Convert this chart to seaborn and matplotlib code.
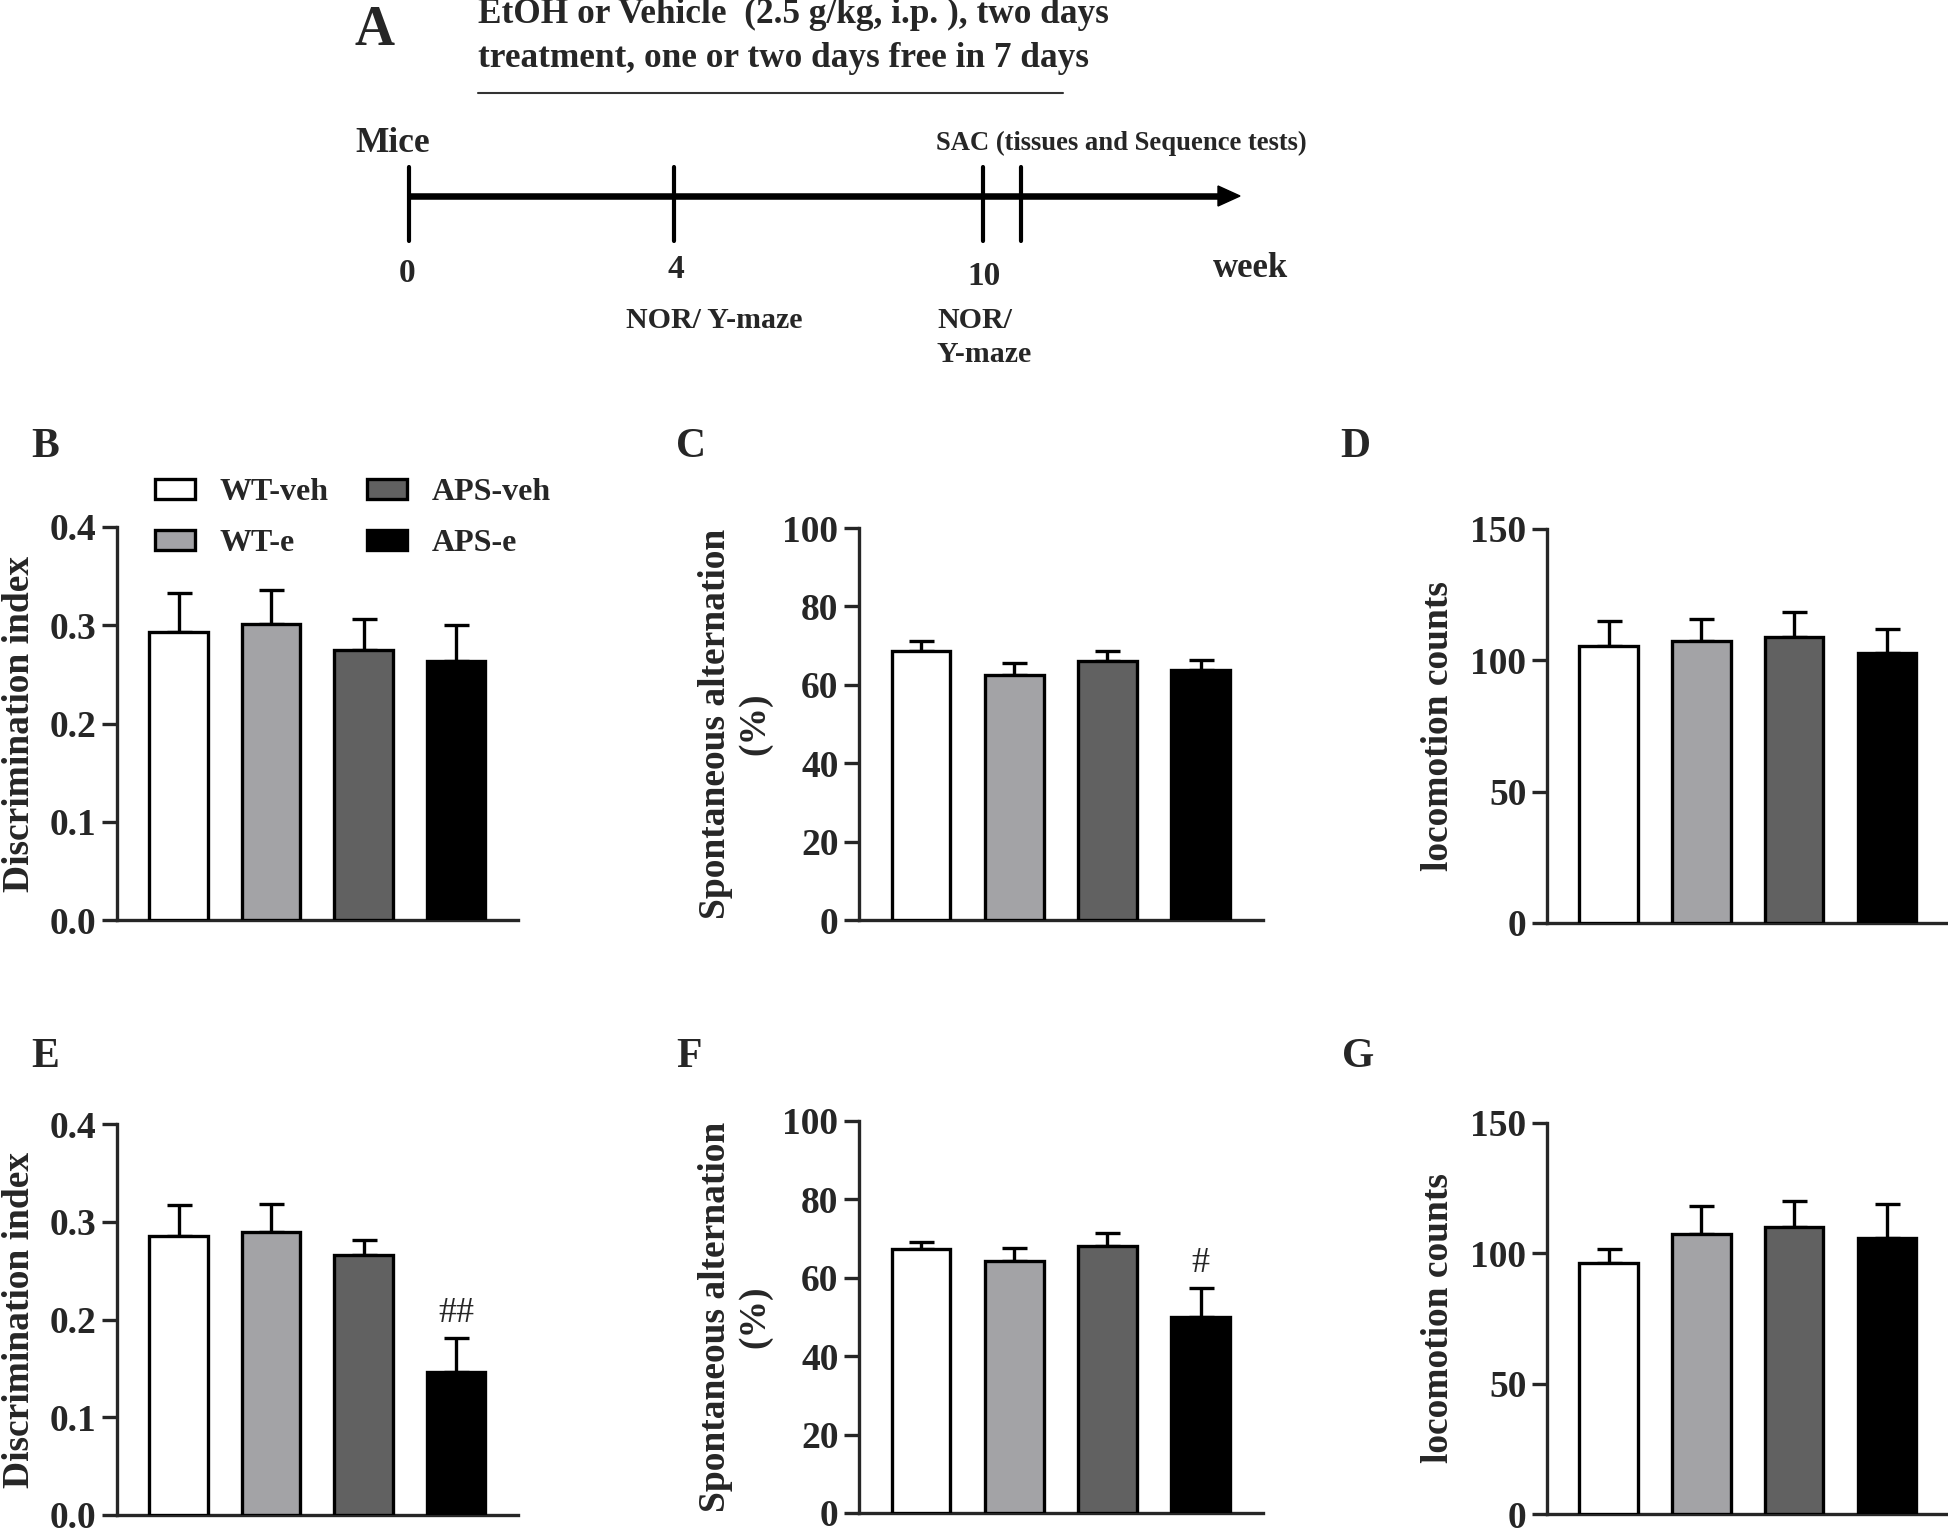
import numpy as np
import pandas as pd
import seaborn as sns
import matplotlib.pyplot as plt
from matplotlib.patches import Patch, Polygon

# groups and fill colours
groups = ['WT-veh', 'WT-e', 'APS-veh', 'APS-e']
bar_colors = ['#ffffff', '#a3a3a7', '#616161', '#000000']

# B: NOR discrimination index (week 4)
b_mean = [0.293, 0.301, 0.275, 0.264]
b_sem = [0.040, 0.035, 0.031, 0.036]
# C: Y-maze spontaneous alternation (week 4)
c_mean = [68.6, 62.6, 66.0, 63.9]
c_sem = [2.5, 3.0, 2.6, 2.5]
# D: locomotion counts (week 4)
d_mean = [105.6, 107.4, 108.7, 102.7]
d_sem = [9.4, 8.4, 9.8, 9.3]
# E: NOR discrimination index (week 10)
e_mean = [0.285, 0.290, 0.266, 0.146]
e_sem = [0.032, 0.028, 0.015, 0.035]
e_sig = ['', '', '', '##']
# F: Y-maze spontaneous alternation (week 10)
f_mean = [67.3, 64.3, 68.1, 49.9]
f_sem = [1.9, 3.2, 3.3, 7.6]
f_sig = ['', '', '', '#']
# G: locomotion counts (week 10)
g_mean = [96.3, 107.5, 110.0, 105.9]
g_sem = [5.5, 10.6, 10.2, 12.9]

di_ticks = [0.0, 0.1, 0.2, 0.3, 0.4]
sa_ticks = [0, 20, 40, 60, 80, 100]
lc_ticks = [0, 50, 100, 150]

W, H = 1949, 1530
LW = 2.4

sns.set_style('ticks')
plt.rcParams['font.family'] = ['Liberation Serif', 'DejaVu Serif']
plt.rcParams['font.weight'] = 'bold'
plt.rcParams['axes.labelweight'] = 'bold'

fig = plt.figure(figsize=(W / 100, H / 100), dpi=100)

# ---- panel A: timeline sketch, drawn in pixel space ----
ax_t = fig.add_axes([0, 0, 1, 1], zorder=-1)
ax_t.set_xlim(0, W)
ax_t.set_ylim(H, 0)
ax_t.axis('off')

ax_t.text(355, 45, 'A', fontsize=40, va='baseline')
ax_t.text(478, 23, 'EtOH or Vehicle  (2.5 g/kg, i.p. ), two days', fontsize=25.4, va='baseline')
ax_t.text(478, 67, 'treatment, one or two days free in 7 days', fontsize=25.4, va='baseline')
ax_t.plot([478, 1063], [93, 93], color='#333333', lw=1.5)
ax_t.text(355, 152, 'Mice', fontsize=25.5, va='baseline')
ax_t.plot([409, 1222], [196, 196], color='black', lw=4.7, solid_capstyle='butt')
ax_t.add_patch(Polygon([[1218, 186], [1240, 196], [1218, 206]], closed=True, color='black'))
for xt in [409, 674, 983, 1021]:
    ax_t.plot([xt, xt], [167, 241], color='black', lw=3)
ax_t.text(407, 282, '0', fontsize=24, ha='center', va='baseline')
ax_t.text(676, 278, '4', fontsize=24, ha='center', va='baseline')
ax_t.text(984, 285, '10', fontsize=24, ha='center', va='baseline')
ax_t.text(1213, 277, 'week', fontsize=25, va='baseline')
ax_t.text(626, 328, 'NOR/ Y-maze', fontsize=21.5, va='baseline')
ax_t.text(937, 328, 'NOR/', fontsize=21.5, va='baseline')
ax_t.text(937, 362, 'Y-maze', fontsize=21.5, va='baseline')
ax_t.text(936, 150, 'SAC (tissues and Sequence tests)', fontsize=19.2, va='baseline')

# ---- bar panels ----
panels = [
    ('B', b_mean, b_sem, None, 'Discrimination index', di_ticks, '{:.1f}', [117, 527, 518, 920], -0.20),
    ('C', c_mean, c_sem, None, 'Spontaneous alternation\n(%)', sa_ticks, '{:d}', [859, 528, 1263, 920], -0.215),
    ('D', d_mean, d_sem, None, 'locomotion counts', lc_ticks, '{:d}', [1547, 529, 1949, 923], -0.226),
    ('E', e_mean, e_sem, e_sig, 'Discrimination index', di_ticks, '{:.1f}', [117, 1124, 518, 1515], -0.20),
    ('F', f_mean, f_sem, f_sig, 'Spontaneous alternation\n(%)', sa_ticks, '{:d}', [859, 1121, 1263, 1513], -0.215),
    ('G', g_mean, g_sem, None, 'locomotion counts', lc_ticks, '{:d}', [1547, 1123, 1949, 1514], -0.226),
]

for letter, means, sems, sig, ylab, yt, fmt, (x0, y0, x1, y1), labx in panels:
    ax = fig.add_axes([x0 / W, 1 - y1 / H, (x1 - x0) / W, (y1 - y0) / H])
    df = pd.DataFrame({'group': groups, 'value': means})
    sns.barplot(data=df, x='group', y='value', hue='group', palette=bar_colors,
                dodge=False, width=0.63, edgecolor='black', linewidth=LW,
                legend=False, ax=ax, zorder=3)
    ax.errorbar(np.arange(len(groups)), means, yerr=[np.zeros(len(sems)), sems],
                fmt='none', ecolor='black', elinewidth=LW, capsize=9, capthick=LW, zorder=2)
    if sig is not None:
        top = max(yt)
        for i, s in enumerate(sig):
            if s:
                ax.text(i, means[i] + sems[i] + 0.04 * top, s, ha='center', va='baseline',
                        fontsize=26, fontweight='normal')
    ax.set_xlim(-0.665, 3.67)
    ax.set_ylim(0, max(yt))
    ax.set_yticks(yt)
    ax.set_yticklabels([fmt.format(v) for v in yt])
    ax.set_xticks([])
    ax.set_xlabel('')
    ax.set_ylabel(ylab, fontsize=27, linespacing=1.15)
    ax.yaxis.set_label_coords(labx, 0.5)
    ax.tick_params(axis='y', length=10.8, width=LW, labelsize=27, pad=4)
    for sp in ['left', 'bottom']:
        ax.spines[sp].set_linewidth(LW)
    sns.despine(ax=ax)
    ax_t.text({'B': 31, 'C': 676, 'D': 1340, 'E': 31, 'F': 676, 'G': 1342}[letter],
              {'B': 457, 'C': 457, 'D': 457, 'E': 1067, 'F': 1067, 'G': 1067}[letter],
              letter, fontsize=30, va='baseline')
    if letter == 'B':
        handles = [Patch(facecolor=c, edgecolor='black', linewidth=LW, label=g)
                   for g, c in zip(groups, bar_colors)]
        ax.legend(handles=handles, ncol=2, loc='upper left', frameon=False,
                  bbox_to_anchor=(155 / W, 1 - 478 / H), bbox_transform=fig.transFigure,
                  borderpad=0, borderaxespad=0, fontsize=23, handlelength=1.25,
                  handleheight=0.6, handletextpad=0.78, columnspacing=1.2, labelspacing=0.7)

fig.savefig('out.png', dpi=100)
